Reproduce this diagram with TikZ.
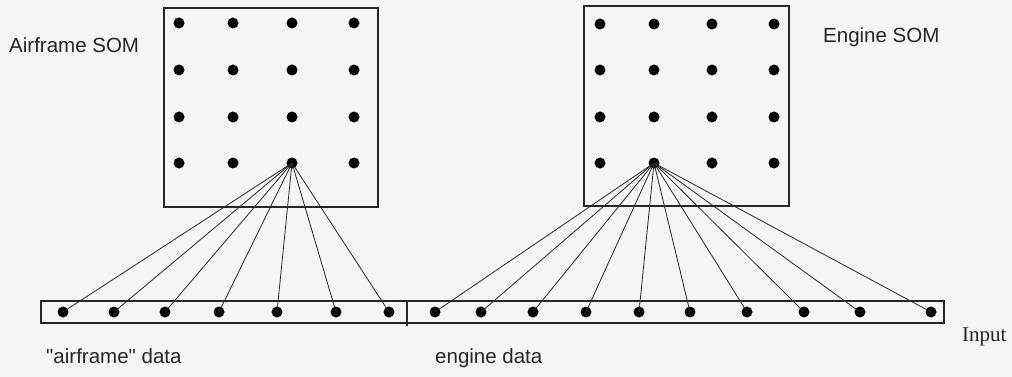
\documentclass[tikz,border=0pt]{standalone}
\usepackage{fontspec}
\newfontfamily\lblfont{Liberation Sans}
\newfontfamily\serifin{Liberation Serif}
\begin{document}
\begin{tikzpicture}[x=1pt,y=-1pt,
  dot/.style={circle,fill=black,inner sep=0pt,minimum size=11pt},
  box/.style={draw=black!85,line width=1.2pt},
  fan/.style={draw=black!85,line width=0.8pt},
  lbl/.style={anchor=base west,inner sep=0pt,font=\lblfont\fontsize{20.5}{22}\selectfont,text=black!85}]
\fill[black!4] (0,0) rectangle (1012,377);
\useasboundingbox (0,0) rectangle (1012,377);
% boxes
\draw[box] (164,8) rectangle (378,207);
\draw[box] (584,6) rectangle (789,206);
\draw[box] (41,301) rectangle (944,323);
\draw[box] (407,301) -- (407,326);
% grids
\foreach \c/\x in {1/179,2/233,3/292,4/354}
  \foreach \r/\y in {1/23,2/70,3/117,4/163}
    \node[dot] (l\r\c) at (\x,\y) {};
\foreach \c/\x in {1/600,2/654,3/712,4/774}
  \foreach \r/\y in {1/24,2/70,3/117,4/163}
    \node[dot] (r\r\c) at (\x,\y) {};
% inputs
\foreach \i/\x in {1/63,2/114,3/165,4/219,5/277,6/336,7/389}
  \node[dot] (a\i) at (\x,312) {};
\foreach \i/\x in {1/435,2/481,3/533,4/586,5/639,6/690,7/747,8/804,9/860,10/931}
  \node[dot] (e\i) at (\x,312) {};
% fans
\foreach \i in {1,...,7}
  \draw[fan] (l43.center) -- (a\i.center);
\foreach \i in {1,...,10}
  \draw[fan] (r42.center) -- (e\i.center);
% labels
\node[lbl] (tA) at (9,53) {Airframe SOM};
\node[lbl] (tE) at (823,43) {Engine SOM};
\node[lbl] (tAD) at (46,363) {"airframe" data};
\node[lbl] (tED) at (435,363) {engine data};
\node[lbl,font=\serifin\fontsize{21}{23}\selectfont] (tI) at (962,341) {Input};
\end{tikzpicture}
\end{document}
